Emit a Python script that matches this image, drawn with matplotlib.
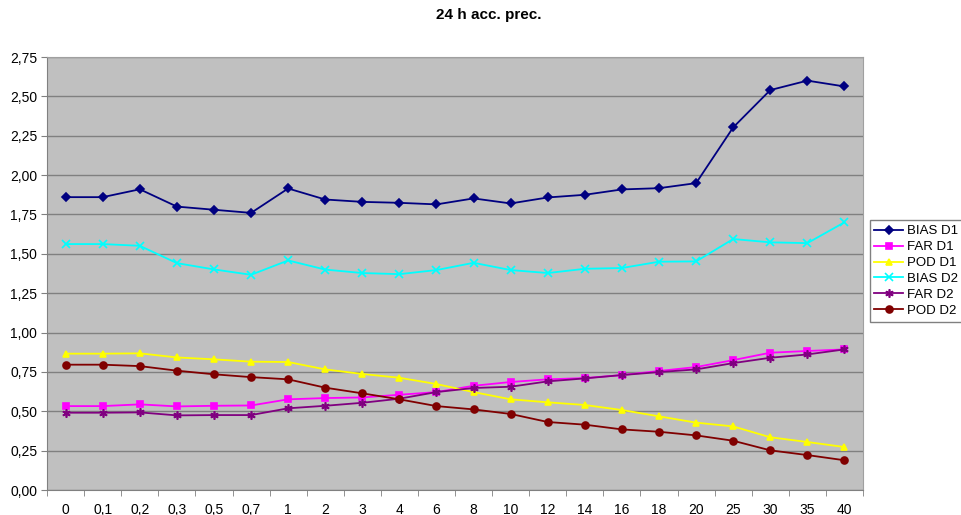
import matplotlib.pyplot as plt
import numpy as np

plt.rcParams['font.family'] = ['Liberation Sans', 'DejaVu Sans']

# thresholds (mm / 24h)
cats = ['0', '0,1', '0,2', '0,3', '0,5', '0,7', '1', '2', '3', '4', '6', '8',
        '10', '12', '14', '16', '18', '20', '25', '30', '35', '40']

bias_d1 = [1.86, 1.86, 1.91, 1.80, 1.78, 1.76, 1.915, 1.845, 1.83, 1.824, 1.814, 1.852,
           1.82, 1.858, 1.875, 1.909, 1.917, 1.949, 2.303, 2.54, 2.60, 2.563]
far_d1 = [0.533, 0.533, 0.544, 0.531, 0.535, 0.537, 0.576, 0.584, 0.588, 0.605, 0.622, 0.662,
          0.686, 0.703, 0.711, 0.73, 0.756, 0.781, 0.825, 0.872, 0.883, 0.893]
pod_d1 = [0.866, 0.866, 0.868, 0.842, 0.83, 0.815, 0.813, 0.766, 0.737, 0.713, 0.673, 0.622,
          0.576, 0.557, 0.54, 0.508, 0.468, 0.428, 0.404, 0.335, 0.305, 0.273]
bias_d2 = [1.562, 1.562, 1.551, 1.441, 1.401, 1.367, 1.458, 1.40, 1.378, 1.371, 1.397, 1.443,
           1.397, 1.378, 1.405, 1.41, 1.45, 1.452, 1.594, 1.573, 1.568, 1.70]
far_d2 = [0.491, 0.491, 0.493, 0.474, 0.476, 0.476, 0.519, 0.535, 0.554, 0.58, 0.622, 0.648,
          0.656, 0.69, 0.709, 0.73, 0.749, 0.766, 0.806, 0.84, 0.861, 0.893]
pod_d2 = [0.796, 0.796, 0.787, 0.758, 0.735, 0.717, 0.703, 0.65, 0.614, 0.576, 0.533, 0.512,
          0.483, 0.432, 0.415, 0.385, 0.37, 0.347, 0.313, 0.252, 0.222, 0.189]

series = [
    ('BIAS D1', bias_d1, '#000080', 'D', 4),
    ('FAR D1', far_d1, '#FF00FF', 's', 5),
    ('POD D1', pod_d1, '#FFFF00', '^', 5),
    ('BIAS D2', bias_d2, '#00FFFF', 'x', 6),
    ('FAR D2', far_d2, '#800080', (6, 2, 0), 6),
    ('POD D2', pod_d2, '#800000', 'o', 5),
]

fig = plt.figure(figsize=(9.61, 5.15), dpi=100)
ax = fig.add_axes([0.049, 0.0485, 0.849, 0.8408])
ax.set_facecolor('#C0C0C0')

x = np.arange(len(cats))
for name, vals, col, mk, ms in series:
    ax.plot(x, vals, color=col, marker=mk, markersize=ms, linewidth=1.3,
            markeredgewidth=1.2, label=name)

ax.set_xlim(-0.5, len(cats) - 0.5)
ax.set_ylim(0, 2.75)
yt = np.arange(0, 2.76, 0.25)
ax.set_yticks(yt)
ax.set_yticklabels([f'{v:.2f}'.replace('.', ',') for v in yt])
ax.set_xticks(x)
ax.set_xticklabels(cats)
ax.set_xticks(np.arange(-0.5, len(cats), 1), minor=True)
ax.tick_params(axis='x', which='major', length=0, pad=9, labelsize=10)
ax.tick_params(axis='x', which='minor', length=4, color='#808080')
ax.tick_params(axis='y', length=4, color='#808080', labelsize=10, pad=3)
ax.yaxis.grid(True, color='#808080', linewidth=1)
ax.set_axisbelow(True)
for s in ['left', 'bottom']:
    ax.spines[s].set_color('#808080')
for s in ['right', 'top']:
    ax.spines[s].set_color('#A0A0A0')

fig.text(0.5085, 0.971, '24 h acc. prec.', ha='center', va='center',
         fontsize=11, fontweight='bold')

fig.legend(loc='upper left', bbox_to_anchor=(0.905, 0.572), fontsize=9.5,
           frameon=True, fancybox=False, edgecolor='#808080', framealpha=1,
           handlelength=2.2, handletextpad=0.3, labelspacing=0.28,
           borderpad=0.35, borderaxespad=0)

fig.savefig('out.png', dpi=100)
